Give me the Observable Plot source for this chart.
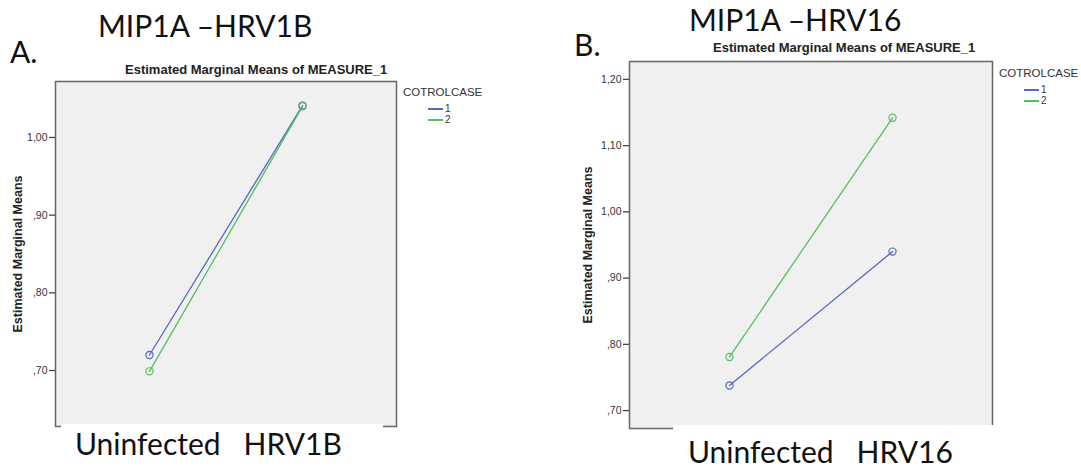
<!DOCTYPE html>
<html>
<head>
<meta charset="utf-8">
<script src="https://cdn.jsdelivr.net/npm/d3@7"></script>
<script src="https://cdn.jsdelivr.net/npm/@observablehq/plot@0.6"></script>
<style>
  body { margin: 0; background: #fff; }
  #stage { position: relative; width: 1081px; height: 470px; background: #fff; overflow: hidden; }
  .abs { position: absolute; white-space: pre; line-height: 1.25; }
  .slide { font-family: Lato, "Open Sans", sans-serif; color: #111; }
  .spss { font-family: Arial, "Liberation Sans", sans-serif; }
</style>
</head>
<body>
<div id="stage"></div>
<script>
// Estimated marginal means of MIP1A, by infection condition and control/case group
const seriesNames = ["1", "2"];
const seriesColors = ["#5668bf", "#55bf60"];

const categoriesA = ["Uninfected", "HRV1B"];
const group1A = [0.720, 1.041];
const group2A = [0.699, 1.040];
const ticksA = [0.70, 0.80, 0.90, 1.00];
const yDomainA = [0.628, 1.072];

const categoriesB = ["Uninfected", "HRV16"];
const group1B = [0.738, 0.940];
const group2B = [0.781, 1.142];
const ticksB = [0.70, 0.80, 0.90, 1.00, 1.10, 1.20];
const yDomainB = [0.673, 1.227];

const stage = document.getElementById("stage");

// SPSS-style decimal comma, no leading zero: 0.7 -> ",70"
const fmt = d => d3.format(".2f")(d).replace(".", ",").replace(/^0/, "");

function panel({categories, s1, s2, ticks, domain, width, m, labelDx}) {
  const rows = [];
  [s1, s2].forEach((vals, i) =>
    categories.forEach((c, j) => rows.push({group: seriesNames[i], cat: categories[j], value: vals[j]})));
  return Plot.plot({
    width, height: 470,
    marginLeft: m[3], marginRight: m[1], marginTop: m[0], marginBottom: m[2],
    style: {background: "transparent", fontFamily: "Arial, 'Liberation Sans', sans-serif", fontSize: "10.5px", color: "#333"},
    x: {type: "point", domain: categories, padding: 0.61, axis: null},
    y: {domain, axis: null},
    color: {domain: seriesNames, range: seriesColors},
    marks: [
      Plot.frame({fill: "#f0f0f0"}),
      Plot.axisY(ticks, {tickFormat: fmt, tickSize: 6, tickPadding: 2, label: null, stroke: "#444", strokeWidth: 1.3}),
      Plot.text(["Estimated Marginal Means"], {
        text: d => d, frameAnchor: "left", textAnchor: "middle", rotate: -90, dx: labelDx,
        fontWeight: "bold", fontSize: 12.5, fill: "#222"
      }),
      Plot.line(rows, {x: "cat", y: "value", z: "group", stroke: "group", strokeWidth: 1.3}),
      Plot.dot(rows, {x: "cat", y: "value", stroke: "group", r: 3.6, strokeWidth: 1.2}),
      Plot.frame({stroke: "#666", strokeWidth: 1.5})
    ]
  });
}

function place(el, left, top) {
  el.style.position = "absolute";
  el.style.left = left + "px";
  el.style.top = top + "px";
  stage.appendChild(el);
}

// text placed by its baseline (line-height 1.25)
function label(txt, cls, size, left, baseline, extra = {}) {
  const k = cls === "slide" ? 1.012 : 0.9715;
  const d = document.createElement("div");
  d.className = "abs " + cls;
  d.textContent = txt;
  d.style.fontSize = size + "px";
  d.style.left = left + "px";
  d.style.top = (baseline - k * size) + "px";
  Object.assign(d.style, extra);
  stage.appendChild(d);
  return d;
}

function legend(left, top) {
  label("COTROLCASE", "spss", 11.5, left, top, {color: "#333"});
  seriesNames.forEach((n, i) => {
    const y = top + 13 + i * 11;
    const line = document.createElement("div");
    Object.assign(line.style, {position: "absolute", left: (left + 25) + "px", top: (y - 1) + "px",
      width: "15px", height: "1.6px", background: seriesColors[i]});
    stage.appendChild(line);
    label(n, "spss", 10, left + 42, y + 4, {color: "#333"});
  });
}

function whiteBox(left, top, width, height) {
  const b = document.createElement("div");
  Object.assign(b.style, {position: "absolute", left: left + "px", top: top + "px",
    width: width + "px", height: height + "px", background: "#fff"});
  stage.appendChild(b);
}

// Panel A
place(panel({categories: categoriesA, s1: group1A, s2: group2A, ticks: ticksA, domain: yDomainA,
  width: 540, m: [81, 144, 44, 55], labelDx: -38}), 0, 0);
// Panel B
place(panel({categories: categoriesB, s1: group1B, s2: group2B, ticks: ticksB, domain: yDomainB,
  width: 541, m: [61, 89, 42, 89], labelDx: -42}), 540, 0);

// Chart titles and legends
const tA = label("Estimated Marginal Means of MEASURE_1", "spss", 13, 0, 75, {fontWeight: "bold", color: "#222"});
tA.style.left = (256 - tA.offsetWidth / 2) + "px";
const tB = label("Estimated Marginal Means of MEASURE_1", "spss", 13, 0, 53, {fontWeight: "bold", color: "#222"});
tB.style.left = (844 - tB.offsetWidth / 2) + "px";
legend(403, 96);
legend(999, 77);

// Slide annotations
label("MIP1A \u2013HRV1B", "slide", 30, 98, 37);
label("A.", "slide", 30, 10, 63);
label("MIP1A \u2013HRV16", "slide", 30, 689, 31);
label("B.", "slide", 30, 574, 56);

whiteBox(61, 424, 322, 46);
whiteBox(673, 424.5, 330, 46);
label("Uninfected   " + categoriesA[1], "slide", 30, 75, 455);
label("Uninfected   " + categoriesB[1], "slide", 30, 688, 463);
</script>
</body>
</html>
